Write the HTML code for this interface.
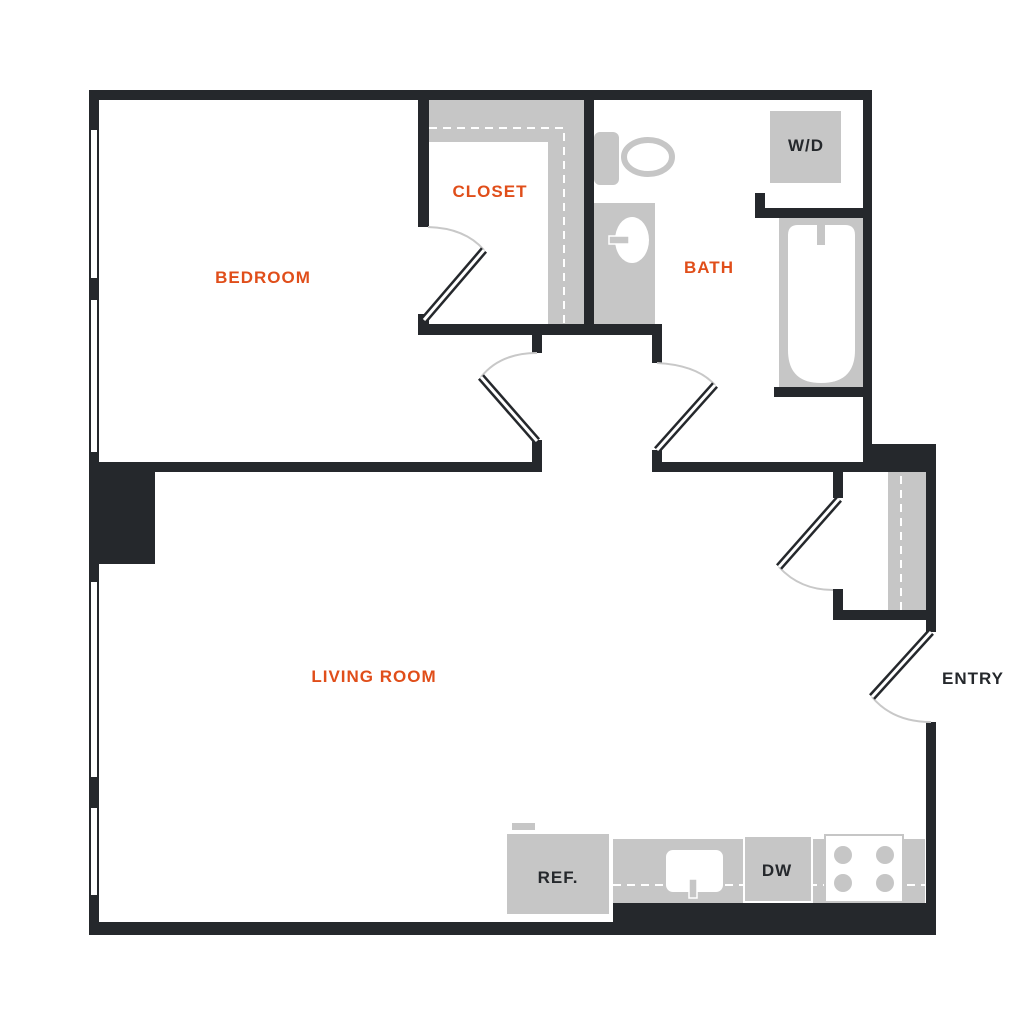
<!DOCTYPE html>
<html><head><meta charset="utf-8"><style>
html,body{margin:0;padding:0;background:#fff}
svg{display:block}
text{font-family:"Liberation Sans",sans-serif;font-weight:bold;text-anchor:middle;letter-spacing:1px}
</style></head><body>
<svg width="1024" height="1024" viewBox="0 0 1024 1024" xmlns="http://www.w3.org/2000/svg">
<g fill="#25282c">
<rect x="89" y="90" width="783" height="10"/>
<rect x="89" y="90" width="10" height="845"/>
<rect x="863" y="90" width="9" height="360"/>
<rect x="863" y="444" width="73" height="28"/>
<rect x="926" y="444" width="10" height="188"/>
<rect x="926" y="722" width="10" height="213"/>
<rect x="89" y="922" width="847" height="13"/>
<rect x="613" y="903" width="323" height="32"/>
<rect x="89" y="462" width="66" height="102"/>
<rect x="99" y="462" width="443" height="10"/>
<rect x="652" y="462" width="211" height="10"/>
<rect x="532" y="440" width="10" height="32"/>
<rect x="652" y="450" width="10" height="22"/>
<rect x="418" y="100" width="11" height="127"/>
<rect x="418" y="314" width="11" height="21"/>
<rect x="418" y="324" width="244" height="11"/>
<rect x="584" y="100" width="10" height="235"/>
<rect x="532" y="335" width="10" height="18"/>
<rect x="652" y="335" width="10" height="28"/>
<rect x="755" y="193" width="10" height="25"/>
<rect x="755" y="208" width="108" height="10"/>
<rect x="774" y="387" width="89" height="10"/>
<rect x="833" y="472" width="10" height="26"/>
<rect x="833" y="589" width="10" height="31"/>
<rect x="833" y="610" width="103" height="10"/>
</g>
<g fill="#fff">
<rect x="91" y="130" width="6" height="148"/>
<rect x="91" y="300" width="6" height="152"/>
<rect x="91" y="582" width="6" height="195"/>
<rect x="91" y="808" width="6" height="87"/>
</g>
<g fill="#c6c6c6">
<rect x="429" y="100" width="155" height="42"/>
<rect x="548" y="100" width="36" height="224"/>
<rect x="888" y="472" width="38" height="138"/>
</g>
<polyline points="429,128 564,128 564,324" fill="none" stroke="#fff" stroke-width="2" stroke-dasharray="8,6"/>
<line x1="901" y1="476" x2="901" y2="610" stroke="#fff" stroke-width="2" stroke-dasharray="8,6"/>
<rect x="594" y="132" width="25" height="53" rx="6" fill="#c6c6c6"/>
<ellipse cx="648" cy="157" rx="24" ry="17" fill="#fff" stroke="#c6c6c6" stroke-width="6"/>
<rect x="594" y="203" width="61" height="121" fill="#c6c6c6"/>
<ellipse cx="632" cy="240" rx="17" ry="23" fill="#fff"/>
<rect x="609" y="236" width="20" height="8" fill="#c6c6c6" stroke="#fff" stroke-width="1.5"/>
<rect x="770" y="111" width="71" height="72" fill="#c6c6c6"/>
<rect x="779" y="218" width="84" height="169" fill="#c6c6c6"/>
<path d="M788,235 Q788,225 798,225 L845,225 Q855,225 855,235 L855,350 Q855,383 821,383 Q788,383 788,350 Z" fill="#fff"/>
<rect x="817" y="222" width="8" height="23" fill="#c6c6c6"/>
<rect x="512" y="823" width="23" height="7" fill="#c6c6c6"/>
<rect x="507" y="834" width="102" height="80" fill="#c6c6c6"/>
<rect x="613" y="839" width="312" height="64" fill="#c6c6c6"/>
<line x1="613" y1="885" x2="925" y2="885" stroke="#fff" stroke-width="2" stroke-dasharray="8,6"/>
<rect x="666" y="850" width="57" height="42" rx="7" fill="#fff"/>
<rect x="689" y="879" width="8" height="19" fill="#c6c6c6" stroke="#fff" stroke-width="1.5"/>
<rect x="744" y="836" width="68" height="66" fill="#c6c6c6" stroke="#fff" stroke-width="2"/>
<rect x="825" y="835" width="78" height="67" fill="#fff" stroke="#c6c6c6" stroke-width="2"/>
<g fill="#c6c6c6"><circle cx="843" cy="855" r="9"/><circle cx="885" cy="855" r="9"/><circle cx="843" cy="883" r="9"/><circle cx="885" cy="883" r="9"/></g>
<g fill="none" stroke="#c8c8c8" stroke-width="2">
<path d="M428,227 Q465,228 484,250"/>
<path d="M537,353 Q500,353 481,377"/>
<path d="M657,363 Q697,365 715,385"/>
<path d="M779,567 Q800,590 833,590"/>
<path d="M872,697 Q893,722 931,722"/>
</g>
<g stroke="#25282c" stroke-width="8">
<line x1="424" y1="320" x2="484" y2="250"/>
<line x1="537" y1="441" x2="481" y2="377"/>
<line x1="657" y1="450" x2="715" y2="385"/>
<line x1="839" y1="499" x2="779" y2="567"/>
<line x1="931" y1="632" x2="872" y2="697"/>
</g>
<g stroke="#fff" stroke-width="3">
<line x1="424" y1="320" x2="484" y2="250"/>
<line x1="537" y1="441" x2="481" y2="377"/>
<line x1="657" y1="450" x2="715" y2="385"/>
<line x1="839" y1="499" x2="779" y2="567"/>
<line x1="931" y1="632" x2="872" y2="697"/>
</g>
<g fill="#e04e1a" font-size="17">
<text x="263" y="283">BEDROOM</text>
<text x="490" y="197">CLOSET</text>
<text x="709" y="273">BATH</text>
<text x="374" y="682">LIVING ROOM</text>
</g>
<g fill="#25282c" font-size="17">
<text x="973" y="684">ENTRY</text>
<text x="806" y="151">W/D</text>
<text x="558" y="883">REF.</text>
<text x="777" y="876">DW</text>
</g>
</svg>
</body></html>
